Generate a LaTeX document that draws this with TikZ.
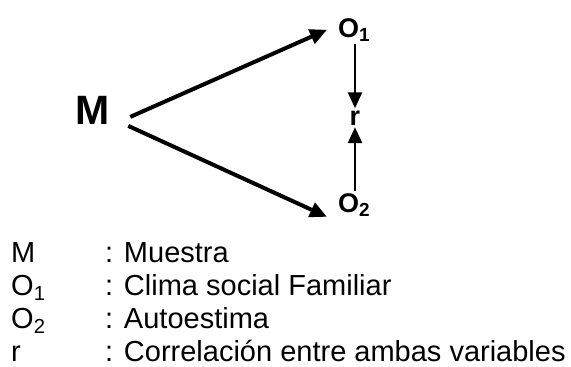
\documentclass[tikz,border=0pt]{standalone}
\usepackage{fontspec}
\setmainfont{Liberation Sans}
\usetikzlibrary{arrows.meta}

\begin{document}
\begin{tikzpicture}[x=1pt,y=-1pt,
            diag/.style={line width=4pt,-{Triangle[length=17pt,width=15pt]}},
            vert/.style={line width=2.6pt,-{Triangle[length=16pt,width=14pt]}},
            negrita/.style={inner sep=2pt,font=\fontsize{27}{29}\selectfont\bfseries},
            leyenda/.style={anchor=base west,inner sep=0pt,font=\fontsize{29}{31}\selectfont}]
            \useasboundingbox (0,0) rectangle (571,367);

            \node[anchor=base,inner sep=2pt,font=\fontsize{41}{43}\selectfont\bfseries] (M) at (93,124) {M};
            \node[negrita,anchor=base west] (O1) at (336,37) {O\textsubscript{1}};
            \node[negrita,anchor=base] (r) at (355,125) {r};
            \node[negrita,anchor=base west] (O2) at (336,212) {O\textsubscript{2}};

            \draw[diag] ([xshift=18pt,yshift=-7pt]M.east) -- ([xshift=-9pt]O1.west);
            \draw[diag] ([xshift=16pt,yshift=-16pt]M.east) -- ([xshift=-9pt,yshift=2pt]O2.south west);
            \draw[vert] (O1.south -| r) -- (r);
            \draw[vert] (O2.north -| r) -- (r);

            \node[leyenda] (lM)  at (11,262) {M};
            \node[leyenda] (tM)  at (105,262) {: Muestra};
            \node[leyenda] (lO1) at (11,295) {O\textsubscript{1}};
            \node[leyenda] (tO1) at (105,295) {: Clima social Familiar};
            \node[leyenda] (lO2) at (11,328) {O\textsubscript{2}};
            \node[leyenda] (tO2) at (105,328) {: Autoestima};
            \node[leyenda] (lr)  at (11,361) {r};
            \node[leyenda] (tr)  at (105,361) {: Correlación entre ambas variables};
        \end{tikzpicture}
\end{document}
